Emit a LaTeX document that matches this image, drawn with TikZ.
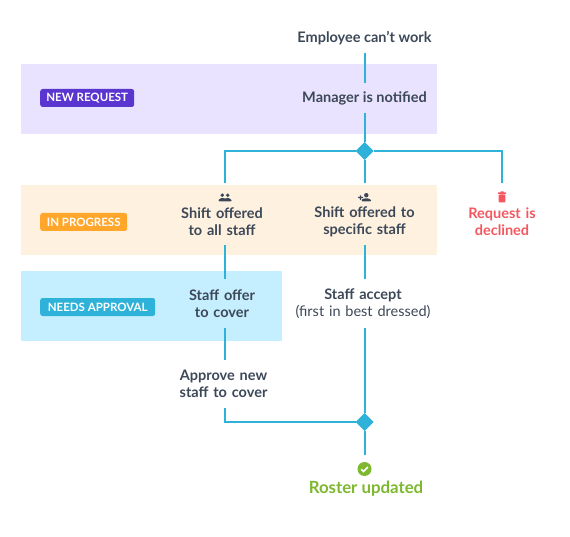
\documentclass[tikz,border=0pt]{standalone}
\usepackage{fontspec}
\setmainfont{Lato}
\usetikzlibrary{positioning, shapes.geometric}
\definecolor{rsInk}{HTML}{3C4858}
\definecolor{rsLine}{HTML}{2FB2DA}
\definecolor{rsRed}{HTML}{F4575F}
\definecolor{rsGreen}{HTML}{7DB82F}
\definecolor{rsNew}{HTML}{5A35D0}
\definecolor{rsNewBand}{HTML}{E9E3FF}
\definecolor{rsProg}{HTML}{FFA62B}
\definecolor{rsProgBand}{HTML}{FFF1DF}
\definecolor{rsAppr}{HTML}{2EB2DA}
\definecolor{rsApprBand}{HTML}{C5EFFF}
\tikzset{
  rs/.style={x=1pt, y=-1pt, font=\fontsize{14.5}{17}\selectfont\bfseries, text=rsInk, on grid},
  band/.style={anchor=north west, minimum height=70pt, inner sep=0pt, outer sep=0pt},
  badge/.style={anchor=west, rounded corners=2.5pt, text=white, inner sep=0pt, minimum height=18pt, font=\fontsize{11.5}{14}\selectfont\bfseries},
  oneline/.style={minimum height=16pt, inner sep=0pt, outer xsep=0pt, outer ysep=7pt},
  twoline/.style={text width=150pt, align=center, minimum height=34pt, inner sep=0pt, outer xsep=0pt, outer ysep=7pt},
  icon/.style={minimum size=14pt, inner sep=0pt, outer sep=7pt},
  fork/.style={diamond, fill=rsLine, minimum size=18pt, inner sep=0pt, outer sep=0pt},
  flow/.style={draw=rsLine, line width=2pt},
  peopleicon/.pic={
    \fill[rsInk] (-2.7,-2.3) circle (1.9) (2.7,-2.3) circle (1.9);
    \fill[rsInk, rounded corners=1pt] (-6.5,4) -- (-6.5,2) -- (-3,0.3) -- (-0.5,1) -- (0,1.5) -- (0.5,1) -- (3,0.3) -- (6.5,2) -- (6.5,4) -- cycle;
  },
  addicon/.pic={
    \fill[rsInk] (1.8,-2.3) circle (2.2);
    \fill[rsInk, rounded corners=1pt] (-3,4) -- (-3,2) -- (1.8,0.5) -- (6.5,2) -- (6.5,4) -- cycle;
    \fill[rsInk] (-6.5,-0.5) rectangle (-1.5,0.7) (-4.6,-2.1) rectangle (-3.4,2.3);
  },
  binicon/.pic={
    \fill[rsRed] (-4,-5) rectangle (4,-3.6) (-1.5,-6) rectangle (1.5,-4.8);
    \fill[rsRed, rounded corners=0.8pt] (-3.3,-3) rectangle (3.3,5);
  },
  tickicon/.pic={
    \draw[white, line width=1.6pt] (-3.2,0.2) -- (-1,2.4) -- (3.4,-2);
  },
}
\begin{document}
\begin{tikzpicture}[
  rs,
]
\useasboundingbox (0,0) rectangle (570,537);
\node[band, fill=rsNewBand, minimum width=416pt] (newband) at (21,64) {};
\node[band, fill=rsProgBand, minimum width=416pt] (progband) at (21,185) {};
\node[band, fill=rsApprBand, minimum width=261pt] (apprband) at (21,271) {};
\node[badge, fill=rsNew, minimum width=94pt] (newbadge) at (40,98) {NEW REQUEST};
\node[badge, fill=rsProg, minimum width=87pt] (progbadge) at (40,222) {IN PROGRESS};
\node[badge, fill=rsAppr, minimum width=115pt] (apprbadge) at (40,307) {NEEDS APPROVAL};

\node[oneline] (employee) at (364.5,37.7) {Employee can’t work};
\node[oneline, below=60.5pt of employee] (manager) {Manager is notified};
\node[fork, below=52.8pt of manager] (forkone) {};

\node[twoline, below=70.5pt of forkone] (specific) {Shift offered to\\specific staff};
\node[twoline, left=142.5pt of specific] (allstaff) {Shift offered\\to all staff};
\node[twoline, right=137.5pt of specific, text=rsRed] (declined) {Request is\\declined};
\node[icon] (addnode) at (specific.north) {};
\node[icon, xshift=3pt] (peoplenode) at (allstaff.north) {};
\node[icon] (binnode) at (declined.north) {};
\pic at (addnode) {addicon};
\pic at (peoplenode) {peopleicon};
\pic at (binnode) {binicon};

\node[twoline, below=82pt of allstaff] (cover) {Staff offer\\to cover};
\node[twoline, below=82pt of specific, xshift=-1.5pt, font=\fontsize{14.5}{17}\selectfont] (accept) {{\bfseries Staff accept}\\(first in best dressed)};
\node[twoline, below=80pt of cover, xshift=1.5pt] (approve) {Approve new\\staff to cover};

\node[fork, below=200.5pt of specific] (forktwo) {};
\node[circle, fill=rsGreen, minimum size=14pt, inner sep=0pt, outer sep=7pt, below=47pt of forktwo] (ticknode) {};
\pic at (ticknode) {tickicon};
\node[oneline, below=20pt of ticknode, xshift=1.5pt, text=rsGreen, font=\fontsize{16.8}{20}\selectfont\bfseries] (roster) {Roster updated};

\draw[flow] (employee) -- (manager);
\draw[flow] (manager) -- (forkone);
\draw[flow] (forkone) -| (peoplenode);
\draw[flow] (forkone) -- (addnode);
\draw[flow] (forkone) -| (binnode);
\draw[flow] (peoplenode |- allstaff.south) -- (peoplenode |- cover.north);
\draw[flow] (specific) -- (specific |- accept.north);
\draw[flow] (peoplenode |- cover.south) -- (peoplenode |- approve.north);
\draw[flow] (peoplenode |- approve.south) |- (forktwo);
\draw[flow] (forktwo |- accept.south) -- (forktwo);
\draw[flow] (forktwo) -- (ticknode);
\end{tikzpicture}
\end{document}
